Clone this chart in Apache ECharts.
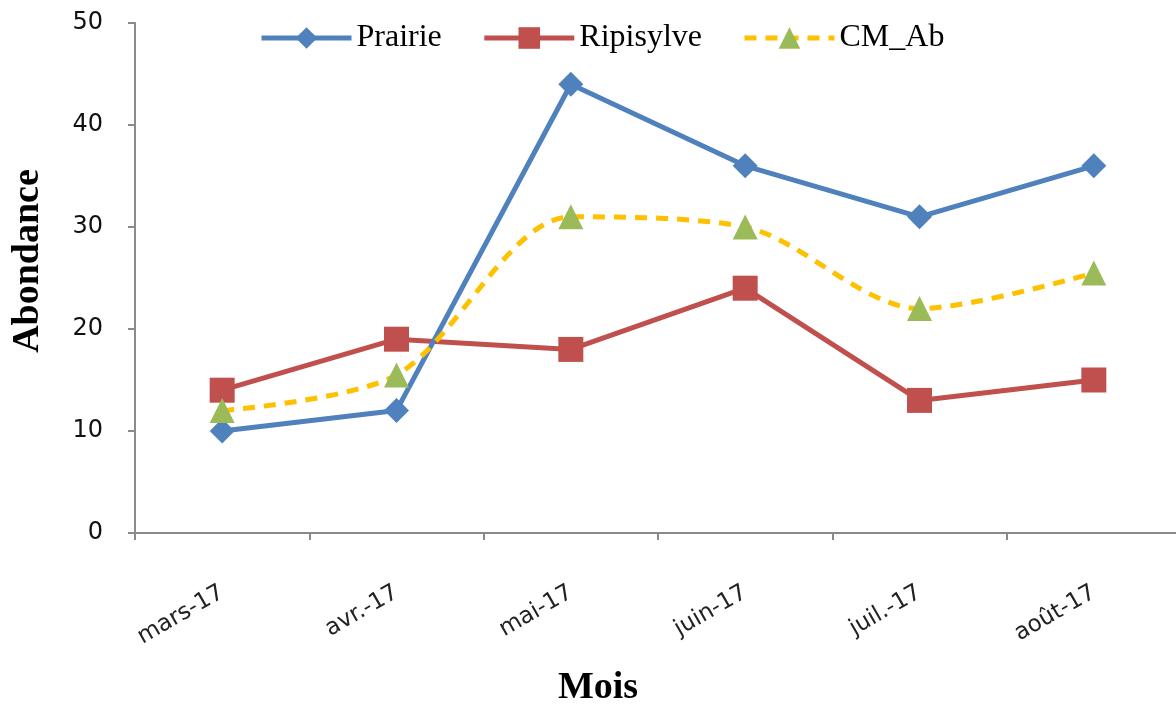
<!DOCTYPE html>
<html>
<head>
<meta charset="utf-8">
<script src="https://cdn.jsdelivr.net/npm/echarts@6/dist/echarts.min.js"></script>
<style>
  html, body { margin: 0; padding: 0; background: #fff; overflow: hidden; }
  #chart { width: 1176px; height: 704px; }
</style>
</head>
<body>
<div id="chart"></div>
<script>
// Monthly abundance per habitat, March to August 2017
const months = ['mars-17', 'avr.-17', 'mai-17', 'juin-17', 'juil.-17', 'août-17'];
const prairie = [10, 12, 44, 36, 31, 36];
const ripisylve = [14, 19, 18, 24, 13, 15];
const cmAb = [12, 15.5, 31, 30, 22, 25.5];

const axisGray = '#8a8a8a';
const serif = '"Liberation Serif", "DejaVu Serif", serif';
const sans = '"DejaVu Sans", Verdana, sans-serif';

const chart = echarts.init(document.getElementById('chart'));
chart.setOption({
  animation: false,
  backgroundColor: '#ffffff',
  grid: { left: 135, right: -5, top: 23, bottom: 171, containLabel: false, outerBoundsMode: 'none' },
  legend: {
    top: 17,
    left: 254,
    itemWidth: 90,
    itemHeight: 27,
    itemGap: 40,
    lineStyle: { width: 'inherit' },
    textStyle: { fontFamily: serif, fontSize: 32, color: '#000' },
    data: ['Prairie', 'Ripisylve', 'CM_Ab']
  },
  xAxis: {
    type: 'category',
    data: months,
    boundaryGap: true,
    name: 'Mois',
    nameLocation: 'middle',
    nameGap: 136,
    nameTextStyle: { fontFamily: serif, fontSize: 38, fontWeight: 'bold', color: '#000', padding: [0, 120, 0, 0] },
    axisLine: { lineStyle: { color: axisGray, width: 2 } },
    axisTick: { show: true, length: 7, lineStyle: { color: axisGray, width: 2 } },
    axisLabel: { rotate: 30, margin: 58, fontFamily: sans, fontSize: 23, color: '#222' },
    splitLine: { show: false }
  },
  yAxis: {
    type: 'value',
    min: 0,
    max: 50,
    interval: 10,
    name: 'Abondance',
    nameLocation: 'middle',
    nameGap: 88,
    nameRotate: 90,
    nameTextStyle: { fontFamily: serif, fontSize: 38, fontWeight: 'bold', color: '#000', padding: [0, 0, 0, 34] },
    axisLine: { show: true, lineStyle: { color: axisGray, width: 2 } },
    axisTick: { show: true, length: 7, lineStyle: { color: axisGray, width: 2 } },
    axisLabel: { margin: 32, fontFamily: sans, fontSize: 24, color: '#111' },
    splitLine: { show: false }
  },
  series: [
    {
      name: 'Prairie',
      type: 'line',
      data: prairie,
      symbol: 'diamond',
      symbolSize: 25,
      lineStyle: { color: '#4F81BD', width: 5 },
      itemStyle: { color: '#4F81BD' },
      z: 3
    },
    {
      name: 'Ripisylve',
      type: 'line',
      data: ripisylve,
      symbol: 'rect',
      symbolSize: 25,
      lineStyle: { color: '#C0504D', width: 5 },
      itemStyle: { color: '#C0504D' },
      z: 2
    },
    {
      name: 'CM_Ab',
      type: 'line',
      data: cmAb,
      smooth: 0.3,
      symbol: 'triangle',
      symbolSize: 25,
      lineStyle: { color: '#FFC000', width: 5, type: [12, 9] },
      itemStyle: { color: '#9BBB59' },
      z: 4
    }
  ]
});
</script>
</body>
</html>
